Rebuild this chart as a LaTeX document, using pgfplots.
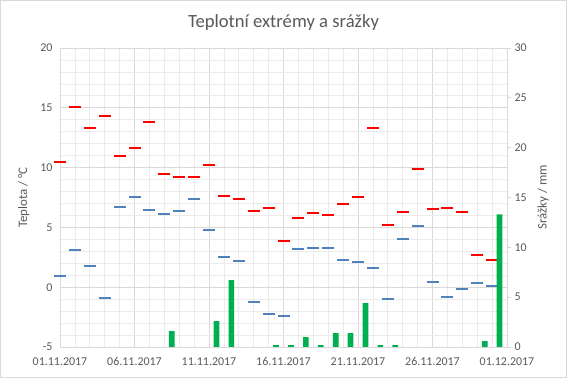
\documentclass[border=0pt]{standalone}
\usepackage{fontspec}
\setmainfont{Carlito}
\usepackage{pgfplots}
\usepackage{pgfplotstable}
\pgfplotsset{compat=1.18}
\definecolor{txt}{HTML}{595959}
\definecolor{maxred}{HTML}{FF0000}
\definecolor{minblue}{HTML}{4F81BD}
\definecolor{rain}{HTML}{00B050}
\definecolor{gmaj}{HTML}{D9D9D9}
\definecolor{gmin}{HTML}{EBEBEB}

\pgfplotstableread{
d t
0 10.5
1 15.1
2 13.35
3 14.3
4 10.95
5 11.6
6 13.8
7 9.5
8 9.2
9 9.2
10 10.2
11 7.6
12 7.35
13 6.4
14 6.65
15 3.9
16 5.8
17 6.2
18 6.0
19 6.95
20 7.55
21 13.3
22 5.2
23 6.3
24 9.85
25 6.5
26 6.65
27 6.3
28 2.7
29 2.25
}\tmax

\pgfplotstableread{
d t
0 0.95
1 3.1
2 1.8
3 -0.9
4 6.7
5 7.55
6 6.45
7 6.1
8 6.4
9 7.35
10 4.8
11 2.55
12 2.2
13 -1.2
14 -2.2
15 -2.4
16 3.2
17 3.3
18 3.3
19 2.3
20 2.1
21 1.6
22 -0.95
23 4.05
24 5.15
25 0.45
26 -0.8
27 -0.15
28 0.35
29 0.1
}\tmin

\pgfplotstableread{
d p
7.5 1.6
10.5 2.6
11.5 6.7
14.5 0.2
15.5 0.2
16.5 1.0
17.5 0.2
18.5 1.4
19.5 1.4
20.5 4.4
21.5 0.2
22.5 0.2
28.5 0.6
29.5 13.3
}\rainfall

\begin{document}
\begin{tikzpicture}
\path[use as bounding box] (0,0) rectangle (567bp,378bp);
\draw[gmaj, line width=0.75bp] (0.4bp,0.4bp) rectangle (566.6bp,377.6bp);
\node[text=txt, font=\fontsize{18.7}{22}\selectfont] at (283.5bp,355bp) {Teplotní extrémy a srážky};
\begin{axis}[
  at={(60bp,31bp)}, anchor=south west, scale only axis,
  width=447bp, height=299bp,
  xmin=0, xmax=30, ymin=-5, ymax=20,
  xtick={0,5,...,30},
  xticklabels={01.11.2017,06.11.2017,11.11.2017,16.11.2017,21.11.2017,26.11.2017,01.12.2017},
  minor x tick num=4,
  ytick={-5,0,...,20}, minor y tick num=4,
  grid=both,
  major grid style={gmaj, line width=0.75bp},
  minor grid style={gmin, line width=0.75bp},
  axis line style={gmaj, line width=0.75bp},
  major tick length=0pt, minor tick length=0pt,
  tick label style={font=\fontsize{12}{14}\selectfont, text=txt},
  /pgf/number format/assume math mode=true,
  yticklabel style={xshift=-4bp},
  xticklabel style={yshift=-7bp},
  ylabel={Teplota / °C},
  ylabel style={font=\fontsize{13}{15}\selectfont, text=txt, at={(axis description cs:-0.081,0.5)}, anchor=center},
  clip=false,
]
\addplot[only marks, mark=-, mark size=6bp, color=maxred, mark options={line width=2bp}] table[x=d,y=t] {\tmax};
\addplot[only marks, mark=-, mark size=6bp, color=minblue, mark options={line width=2bp}] table[x=d,y=t] {\tmin};
\end{axis}
\begin{axis}[
  at={(60bp,31bp)}, anchor=south west, scale only axis,
  width=447bp, height=299bp,
  xmin=0, xmax=30, ymin=0, ymax=30,
  axis y line*=right, axis x line=none,
  ytick={0,5,...,30},
  tick align=outside, major tick length=4bp,
  tick style={gmaj, line width=0.75bp},
  axis line style={gmaj, line width=0.75bp},
  tick label style={font=\fontsize{12}{14}\selectfont, text=txt},
  /pgf/number format/assume math mode=true,
  ylabel={Srážky / mm},
  ylabel style={font=\fontsize{13}{15}\selectfont, text=txt, at={(axis description cs:1.081,0.5)}, anchor=center},
]
\addplot[ybar, bar width=5.7bp, fill=rain, draw=none] table[x=d,y=p] {\rainfall};
\end{axis}
\end{tikzpicture}
\end{document}
